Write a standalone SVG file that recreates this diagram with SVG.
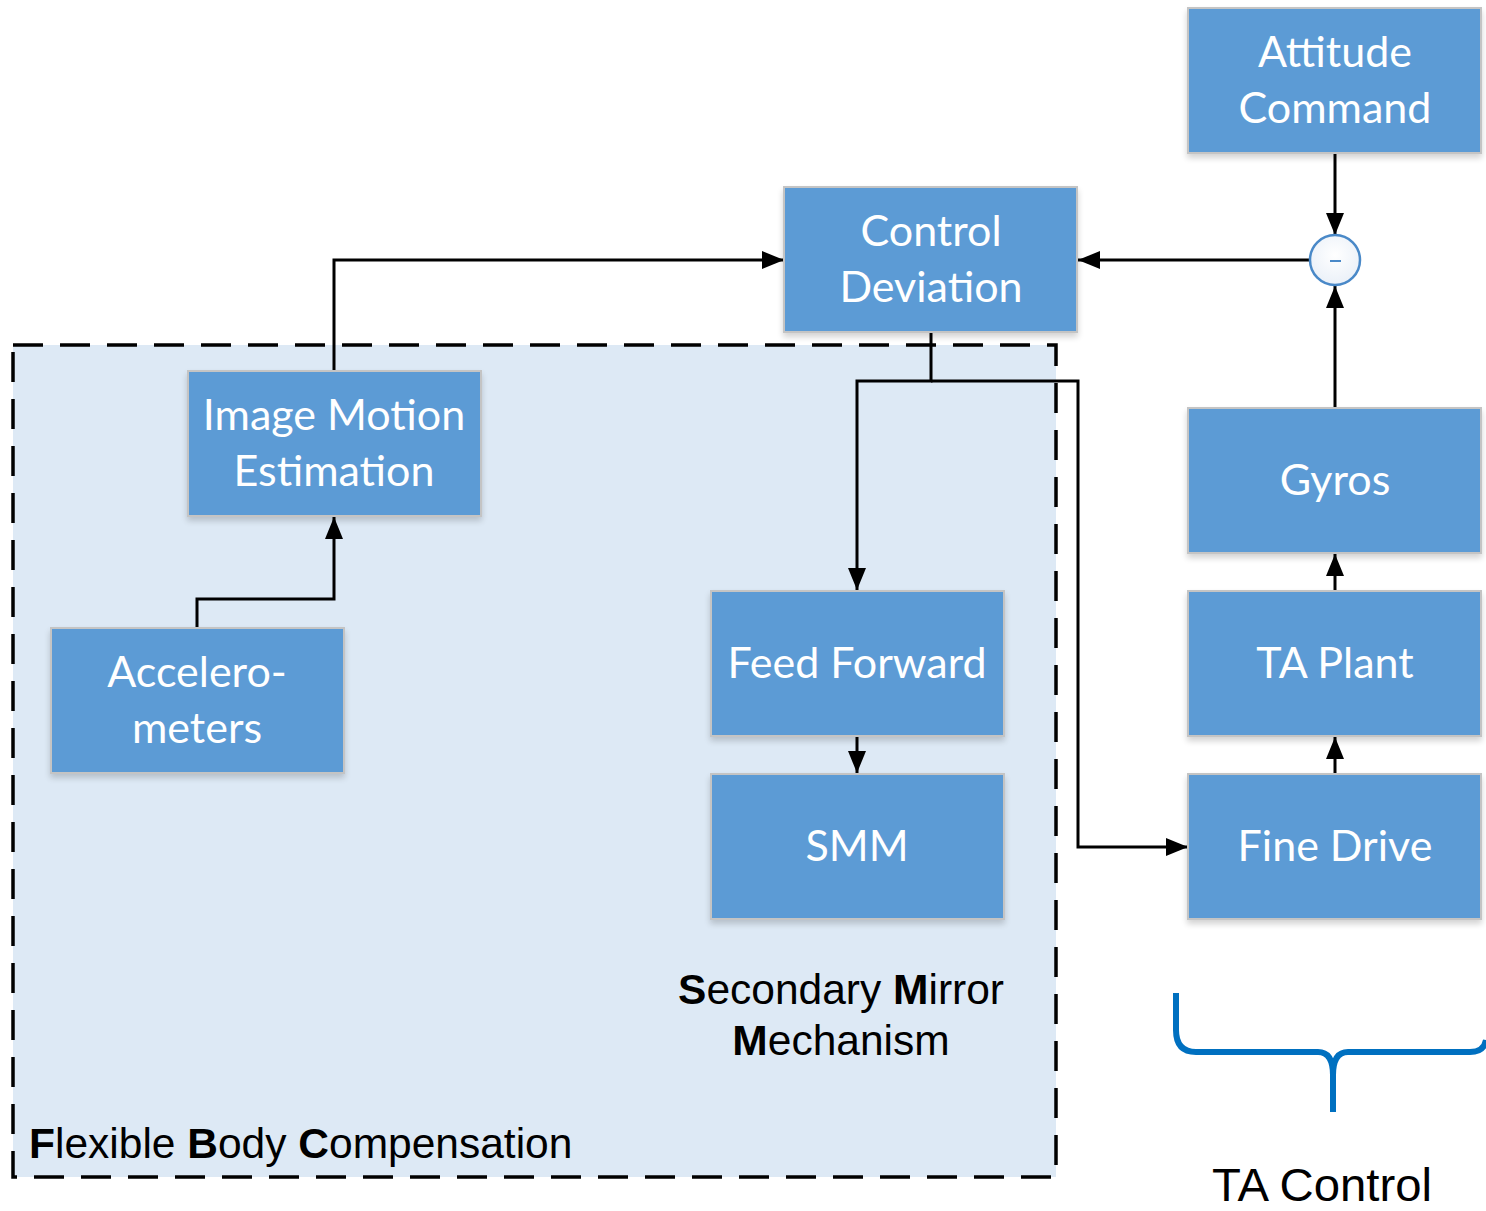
<svg xmlns="http://www.w3.org/2000/svg" width="1486" height="1211" viewBox="0 0 1486 1211">
  <style>
    .box { fill: #5b9bd5; stroke: #c4c4c4; stroke-width: 2; filter: url(#shadow); }
    .lbl { font-family: Lato, "Open Sans", sans-serif; font-size: 43px; fill: #ffffff; text-anchor: middle; }
    .cap { font-family: "Liberation Sans", Arial, sans-serif; font-size: 42.5px; fill: #000000; }
    .wire { fill: none; stroke: #000000; stroke-width: 3; stroke-linejoin: miter; }
  </style>
  <defs>
    <filter id="shadow" x="-10%" y="-10%" width="120%" height="130%">
      <feGaussianBlur in="SourceAlpha" stdDeviation="3"/>
      <feOffset dx="0" dy="4"/>
      <feComponentTransfer><feFuncA type="linear" slope="0.18"/></feComponentTransfer>
      <feMerge><feMergeNode/><feMergeNode in="SourceGraphic"/></feMerge>
    </filter>
    <marker id="arrow" viewBox="0 0 22 18" refX="22" refY="9" markerWidth="22" markerHeight="18" markerUnits="userSpaceOnUse" orient="auto">
      <path d="M0,0 L22,9 L0,18 Z" fill="#000000"/>
    </marker>
    <radialGradient id="sumFill" cx="0.5" cy="0.4" r="0.6">
      <stop offset="0" stop-color="#ffffff"/>
      <stop offset="1" stop-color="#eaf0f8"/>
    </radialGradient>
  </defs>

  <!-- flexible body compensation region -->
  <g id="fbc-region">
    <rect x="13" y="345" width="1043" height="832" fill="#dde9f5" stroke="#000000" stroke-width="3.5" stroke-dasharray="30,17"/>
    <text class="cap" x="29" y="1158"><tspan font-weight="bold">F</tspan>lexible <tspan font-weight="bold">B</tspan>ody <tspan font-weight="bold">C</tspan>ompensation</text>
    <text class="cap" x="841" y="1004" text-anchor="middle"><tspan font-weight="bold">S</tspan>econdary <tspan font-weight="bold">M</tspan>irror</text>
    <text class="cap" x="841" y="1055" text-anchor="middle"><tspan font-weight="bold">M</tspan>echanism</text>
  </g>

  <!-- connectors -->
  <g id="connectors">
    <path class="wire" d="M1335,153 V235" marker-end="url(#arrow)"/>
    <path class="wire" d="M1310,260 H1078" marker-end="url(#arrow)"/>
    <path class="wire" d="M1335,408 V286" marker-end="url(#arrow)"/>
    <path class="wire" d="M334,371 V260 H784" marker-end="url(#arrow)"/>
    <path class="wire" d="M197,628 V599 H334 V517" marker-end="url(#arrow)"/>
    <path class="wire" d="M931,332 V381 H857 V590" marker-end="url(#arrow)"/>
    <path class="wire" d="M931,381 H1078 V847 H1188" marker-end="url(#arrow)"/>
    <path class="wire" d="M857,736 V773" marker-end="url(#arrow)"/>
    <path class="wire" d="M1335,591 V554" marker-end="url(#arrow)"/>
    <path class="wire" d="M1335,774 V737" marker-end="url(#arrow)"/>
  </g>

  <!-- summing junction -->
  <g id="sum">
    <circle cx="1335" cy="260" r="25" fill="url(#sumFill)" stroke="#4a89c8" stroke-width="2.5"/>
    <line x1="1330" y1="261" x2="1341" y2="261" stroke="#4a89c8" stroke-width="2"/>
  </g>

  <g id="attitude-command">
    <rect class="box" x="1188" y="8" width="293" height="145"/>
    <text class="lbl" x="1335" y="67">Attitude</text>
    <text class="lbl" x="1335" y="123">Command</text>
  </g>
  <g id="control-deviation">
    <rect class="box" x="784" y="187" width="293" height="145"/>
    <text class="lbl" x="931" y="246">Control</text>
    <text class="lbl" x="931" y="302">Deviation</text>
  </g>
  <g id="image-motion-estimation">
    <rect class="box" x="188" y="371" width="293" height="145"/>
    <text class="lbl" x="334" y="430">Image Motion</text>
    <text class="lbl" x="334" y="486">Estimation</text>
  </g>
  <g id="accelerometers">
    <rect class="box" x="51" y="628" width="293" height="145"/>
    <text class="lbl" x="197" y="687">Accelero-</text>
    <text class="lbl" x="197" y="743">meters</text>
  </g>
  <g id="feed-forward">
    <rect class="box" x="711" y="591" width="293" height="145"/>
    <text class="lbl" x="857" y="678">Feed Forward</text>
  </g>
  <g id="smm">
    <rect class="box" x="711" y="774" width="293" height="145"/>
    <text class="lbl" x="857" y="861">SMM</text>
  </g>
  <g id="gyros">
    <rect class="box" x="1188" y="408" width="293" height="145"/>
    <text class="lbl" x="1335" y="495">Gyros</text>
  </g>
  <g id="ta-plant">
    <rect class="box" x="1188" y="591" width="293" height="145"/>
    <text class="lbl" x="1335" y="678">TA Plant</text>
  </g>
  <g id="fine-drive">
    <rect class="box" x="1188" y="774" width="293" height="145"/>
    <text class="lbl" x="1335" y="861">Fine Drive</text>
  </g>

  <!-- TA control brace -->
  <g id="ta-control">
    <path d="M1176,993 V1030 Q1176,1052 1196,1052 H1318 Q1333,1052 1333,1075 V1112 M1333,1075 Q1333,1052 1348,1052 H1470 Q1484,1052 1486,1040" fill="none" stroke="#0070c0" stroke-width="6"/>
    <text x="1322" y="1201" text-anchor="middle" font-family="Liberation Sans, Arial, sans-serif" font-size="46" textLength="220" lengthAdjust="spacingAndGlyphs" fill="#000000">TA Control</text>
  </g>
</svg>
